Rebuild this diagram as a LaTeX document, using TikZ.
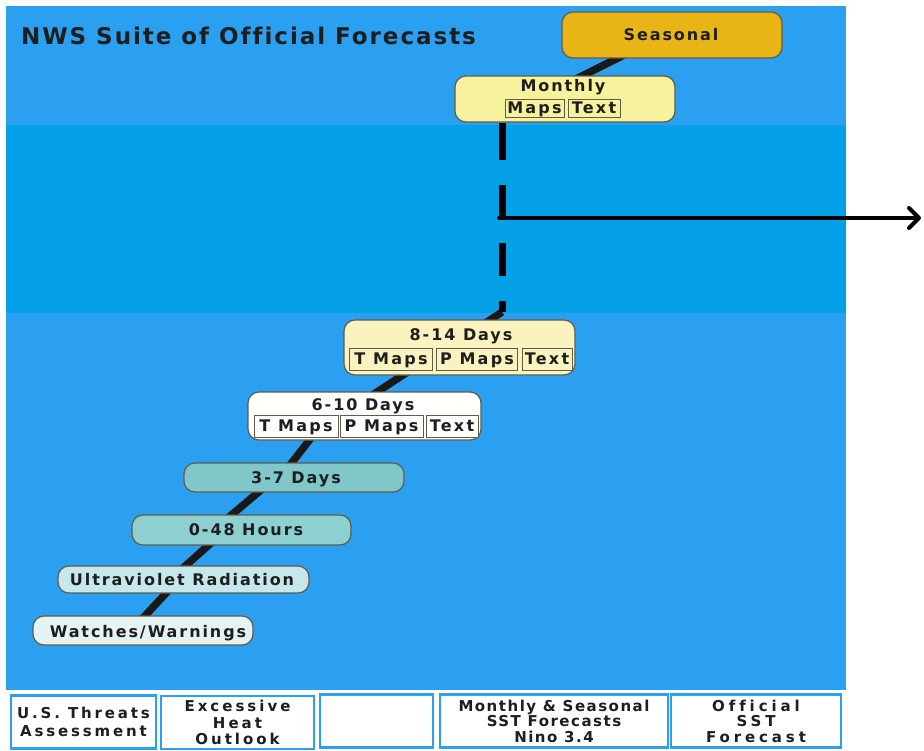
\documentclass[tikz,border=0pt]{standalone}
\usepackage{fontspec}
\setmainfont{DejaVu Sans}
\newfontfamily\lsTitle[LetterSpace=8.5,Ligatures=NoCommon]{DejaVu Sans}
\newfontfamily\lsNode[LetterSpace=12,Ligatures=NoCommon]{DejaVu Sans}
\newfontfamily\lsSub[LetterSpace=14,Ligatures=NoCommon]{DejaVu Sans}
\newfontfamily\lsBotA[LetterSpace=19,Ligatures=NoCommon]{DejaVu Sans}
\newfontfamily\lsBotB[LetterSpace=20,Ligatures=NoCommon]{DejaVu Sans}
\newfontfamily\lsBotC[LetterSpace=10,Ligatures=NoCommon]{DejaVu Sans}
\newfontfamily\lsBotD[LetterSpace=26,Ligatures=NoCommon]{DejaVu Sans}
\usetikzlibrary{arrows.meta}
\definecolor{bgblue}{RGB}{43,160,240}
\definecolor{band}{RGB}{4,160,232}
\definecolor{boxline}{RGB}{95,92,72}
\definecolor{txt}{RGB}{30,30,30}
\definecolor{seasonal}{RGB}{232,180,22}
\definecolor{monthly}{RGB}{247,242,158}
\definecolor{eightfourteen}{RGB}{250,243,192}
\definecolor{threeseven}{RGB}{128,199,201}
\definecolor{zerofortyeight}{RGB}{142,207,208}
\definecolor{uvcol}{RGB}{198,232,236}
\definecolor{watchcol}{RGB}{230,243,243}
\pgfdeclarelayer{bg}
\pgfsetlayers{bg,main}
\begin{document}
\begin{tikzpicture}[x=1pt,y=-1pt,
  box/.style={draw=boxline, line width=1.2pt, rounded corners=11pt, inner sep=0pt},
  subbox/.style={draw=boxline, line width=0.9pt, inner sep=0pt, minimum height=20pt,
     text height=11.6pt, text depth=0pt,
     font=\lsSub\bfseries\fontsize{16}{16}\selectfont, text=txt},
  lbl/.style={inner sep=0pt, text height=11.6pt, text depth=0pt,
     font=\lsNode\bfseries\fontsize{16}{16}\selectfont, text=txt},
  botbox/.style={draw=bgblue, fill=white, line width=2.5pt, inner sep=0pt, minimum height=53pt,
     align=center, text=txt},
  botfont/.style={font=#1\bfseries\fontsize{15}{15.5}\selectfont},
  link/.style={draw=black!90, line width=7.5pt, line join=round},
]
\useasboundingbox (0,0) rectangle (924,750);

% title
\node[inner sep=0pt, anchor=west, text=txt, font=\lsTitle\bfseries\fontsize{23}{23}\selectfont] (title) at (21,36) {NWS Suite of Official Forecasts};

% main boxes
\node[box, fill=seasonal, minimum width=220pt, minimum height=46pt] (seas) at (672,35) {};
\node[lbl] (seast) at (671,35) {Seasonal};

\node[box, fill=monthly, minimum width=220pt, minimum height=46pt] (mon) at (565,99) {};
\node[lbl] (mont) at (563,86) {Monthly};
\node[subbox, fill=monthly, minimum width=59pt, minimum height=18pt] (monA) at (534.5,108) {Maps};
\node[subbox, fill=monthly, minimum width=52pt, minimum height=18pt] (monB) at (594,108) {Text};

\node[box, fill=eightfourteen, minimum width=231pt, minimum height=55pt] (d814) at (459.5,347.5) {};
\node[lbl] (d814t) at (461,335) {8-14 Days};
\node[subbox, fill=eightfourteen, minimum width=83pt, minimum height=22pt] (d814a) at (391,359) {T Maps};
\node[subbox, fill=eightfourteen, minimum width=81pt, minimum height=22pt] (d814b) at (477,359) {P Maps};
\node[subbox, fill=eightfourteen, minimum width=50pt, minimum height=22pt] (d814c) at (547,359) {Text};

\node[box, fill=white, minimum width=233pt, minimum height=48pt] (d610) at (364.5,416) {};
\node[lbl] (d610t) at (363,405) {6-10 Days};
\node[subbox, fill=white, minimum width=84pt, minimum height=22pt] (d610a) at (296,426) {T Maps};
\node[subbox, fill=white, minimum width=83pt, minimum height=22pt] (d610b) at (381.5,426) {P Maps};
\node[subbox, fill=white, minimum width=52pt, minimum height=22pt] (d610c) at (452,426) {Text};

\node[box, fill=threeseven, minimum width=220pt, minimum height=29pt] (d37) at (294,477.5) {};
\node[lbl] (d37t) at (296,478) {3-7 Days};

\node[box, fill=zerofortyeight, minimum width=219pt, minimum height=30pt] (h048) at (241.5,530) {};
\node[lbl] (h048t) at (246,530) {0-48 Hours};

\node[box, fill=uvcol, minimum width=251pt, minimum height=27pt] (uv) at (183.5,579.5) {};
\node[lbl] (uvt) at (182,580) {Ultraviolet Radiation};

\node[box, fill=watchcol, minimum width=220pt, minimum height=29pt] (watch) at (143,630.5) {};
\node[lbl] (watcht) at (148,632) {Watches/Warnings};

% connectors (behind the boxes)
\coordinate (c1) at (143,618);
\coordinate (c2) at (168,591);
\coordinate (c3) at (183,568);
\coordinate (c4) at (211,543);
\coordinate (c5) at (229,517);
\coordinate (c6) at (261,490);
\coordinate (c7) at (290,465);
\coordinate (c8) at (311,438);
\coordinate (c9) at (374,394);
\coordinate (c10) at (406,373);
\coordinate (c11) at (487,322);
\coordinate (c12) at (502,312);
\coordinate (m0) at (502,123);
\coordinate (s1) at (630,52);
\coordinate (s2) at (574,80);
\coordinate (j) at (499,218);
\coordinate (out) at (921,218);
\begin{pgfonlayer}{bg}
\fill[white] (0,0) rectangle (924,750);
\fill[bgblue] (6,6) rectangle (846,690);
\fill[band] (6,125) rectangle (846,313);
\draw[link] (watch) -- (c1) -- (c2) -- (c3) -- (c4) -- (c5) -- (c6) -- (c7) -- (c8) -- (c9) -- (c10) -- (c11) -- (c12);
\draw[link] (s1) -- (s2);
\end{pgfonlayer}
\draw[black, line width=7pt, dash pattern=on 37pt off 25pt on 33pt off 25pt on 33pt off 25pt on 40pt off 10pt] (m0) -- (c12);
\draw[black, line width=4pt, line cap=round, -{Straight Barb[length=10pt,width=20pt,line cap=round,line join=round]}] (j) -- (out);

% bottom boxes
\node[botbox, botfont=\lsBotA, minimum width=145pt] (b1) at (83.5,722) {U.S. Threats\\[2.5pt]Assessment};
\node[botbox, botfont=\lsBotB, minimum width=153pt] (b2) at (237.5,722.5) {Excessive\\[1pt]Heat\\[1pt]Outlook};
\node[botbox, minimum width=113pt] (b3) at (376.5,721) {};
\node[botbox, botfont=\lsBotC, minimum width=228pt] (b4) at (554,721) {Monthly \& Seasonal\\SST Forecasts\\Nino 3.4};
\node[botbox, botfont=\lsBotD, minimum width=170pt] (b5) at (756,721) {Official\\SST\\Forecast};
\end{tikzpicture}
\end{document}
